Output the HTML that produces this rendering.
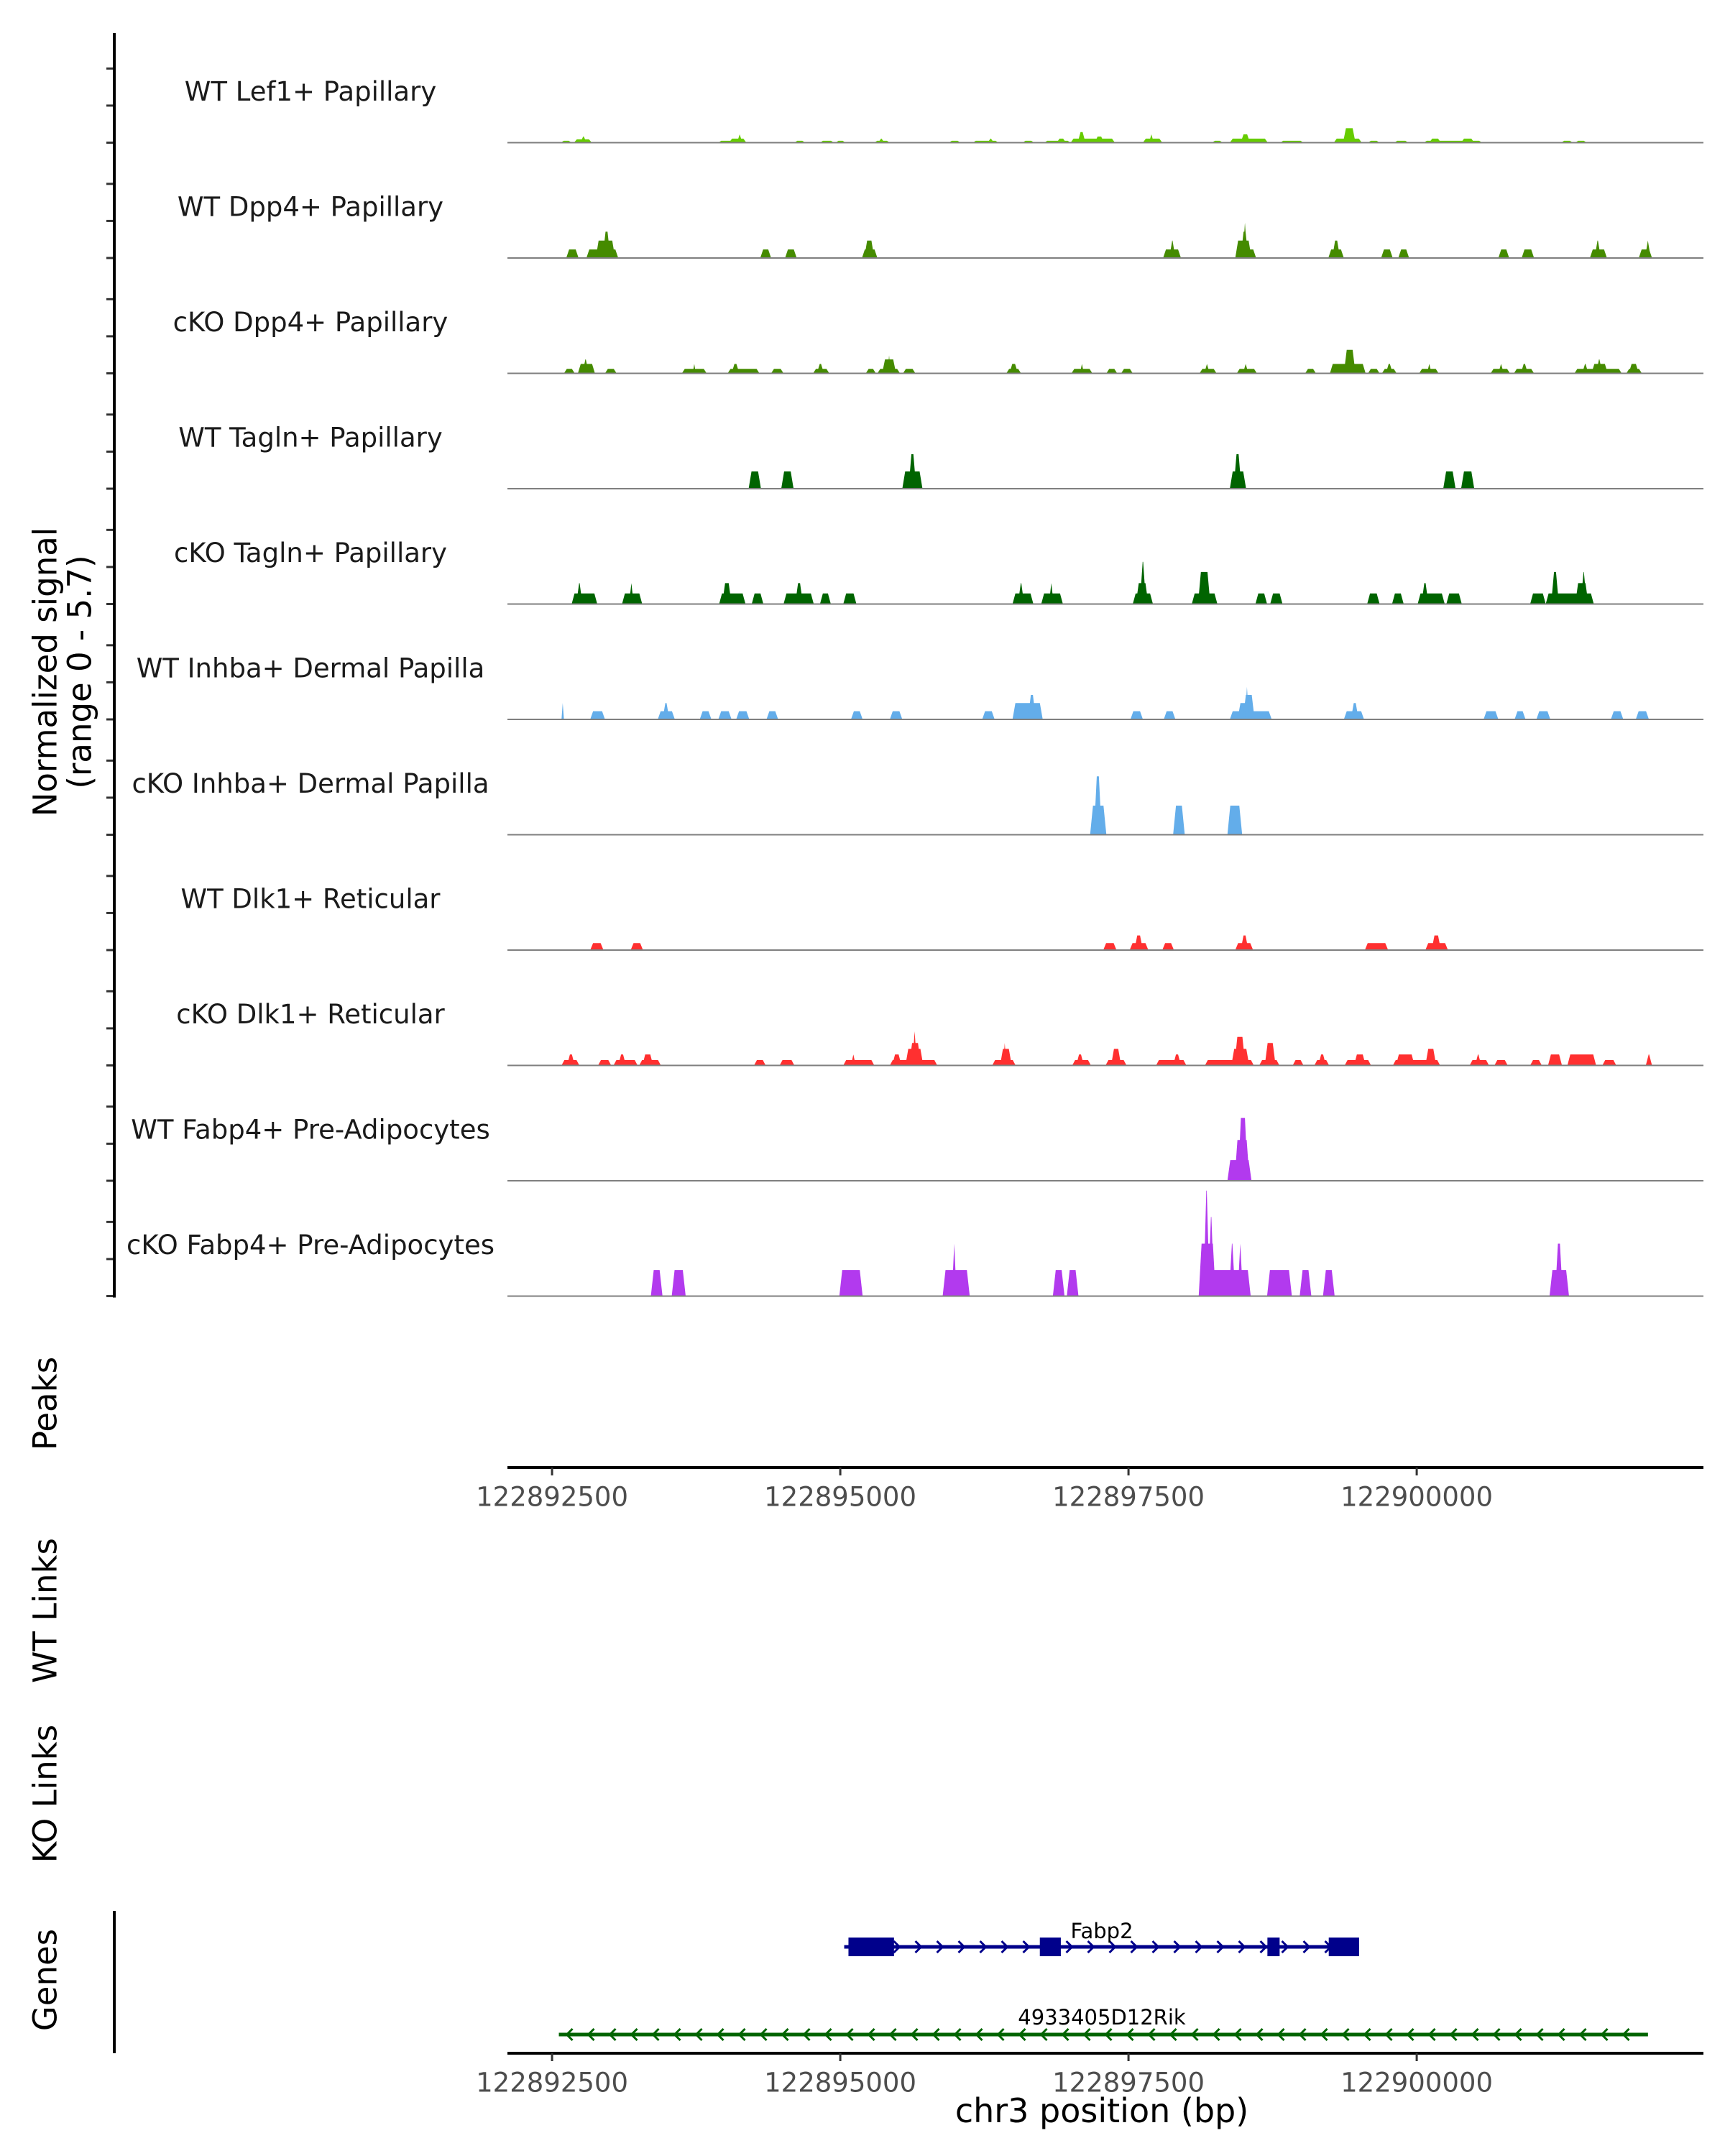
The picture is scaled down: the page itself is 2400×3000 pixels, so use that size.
<!DOCTYPE html>
<html><head><meta charset="utf-8">
<style>
html,body{margin:0;padding:0;background:#fff;}
svg{display:block;font-family:"DejaVu Sans","Liberation Sans",sans-serif;}
</style></head>
<body>
<svg id="chart" width="2400" height="3000" viewBox="0 0 2400 3000" xmlns="http://www.w3.org/2000/svg">
  <g id="tracks"></g>
  <g id="axes"></g>
  <g id="genes"></g>
  <text transform="translate(63,935) rotate(-90)" text-anchor="middle" dominant-baseline="central" font-size="45" fill="#000">Normalized signal</text>
  <text transform="translate(111,935) rotate(-90)" text-anchor="middle" dominant-baseline="central" font-size="45" fill="#000">(range 0 - 5.7)</text>
  <text transform="translate(63,1953) rotate(-90)" text-anchor="middle" dominant-baseline="central" font-size="45" fill="#000">Peaks</text>
  <text transform="translate(63,2241) rotate(-90)" text-anchor="middle" dominant-baseline="central" font-size="45" fill="#000">WT Links</text>
  <text transform="translate(63,2496) rotate(-90)" text-anchor="middle" dominant-baseline="central" font-size="45" fill="#000">KO Links</text>
  <text transform="translate(63,2755) rotate(-90)" text-anchor="middle" dominant-baseline="central" font-size="45" fill="#000">Genes</text>
  <text x="1533" y="2937" text-anchor="middle" dominant-baseline="central" font-size="46" fill="#000">chr3 position (bp)</text>
</svg>
<script>
// ---- data (positions as bp offset from 122892000; values = normalized signal) ----
const trackNames = ['WT Lef1+ Papillary','WT Dpp4+ Papillary','cKO Dpp4+ Papillary','WT Tagln+ Papillary','cKO Tagln+ Papillary','WT Inhba+ Dermal Papilla','cKO Inhba+ Dermal Papilla','WT Dlk1+ Reticular','cKO Dlk1+ Reticular','WT Fabp4+ Pre-Adipocytes','cKO Fabp4+ Pre-Adipocytes'];
const trackColors = ['#66CC00','#458B00','#458B00','#006400','#006400','#63ADEA','#63ADEA','#FF3030','#FF3030','#B23AEE','#B23AEE'];
const peaksLef1WT = [[576,670,0.1],[690,845,0.18],[745,800,0.33],[1942,2191,0.1],[2036,2185,0.22],[2104,2151,0.45],[2602,2696,0.1],[2824,2945,0.1],[2959,3046,0.1],[3295,3430,0.1],[3329,3383,0.22],[3942,4043,0.1],[4150,4372,0.1],[4278,4332,0.22],[4581,4682,0.1],[4770,4998,0.1],[4877,4958,0.22],[4998,5382,0.22],[5059,5127,0.57],[5207,5288,0.33],[5625,5793,0.22],[5678,5719,0.45],[6224,6318,0.1],[6379,6708,0.22],[6473,6554,0.45],[6816,7018,0.1],[7281,7523,0.22],[7361,7469,0.78],[7577,7678,0.1],[7806,7927,0.1],[8062,8567,0.1],[8109,8210,0.22],[8385,8499,0.22],[9253,9354,0.1],[9375,9475,0.1]];
const peaksDpp4WT = [[623,730,0.46],[798,1074,0.46],[879,1047,0.94],[939,1006,1.42],[2306,2400,0.46],[2521,2622,0.46],[3188,3322,0.46],[3208,3295,0.94],[5800,5955,0.46],[5854,5907,0.94],[6426,6607,0.46],[6426,6567,0.94],[6473,6540,1.42],[6490,6530,1.9],[7233,7368,0.46],[7267,7335,0.94],[7691,7792,0.46],[7840,7934,0.46],[8708,8802,0.46],[8910,9018,0.46],[9502,9650,0.46],[9543,9597,0.94],[9926,10041,0.46],[9980,10030,0.94]];
const peaksDpp4KO = [[603,697,0.24],[724,872,0.51],[764,818,0.75],[959,1060,0.24],[1626,1841,0.24],[1720,1747,0.51],[2023,2299,0.24],[2057,2124,0.51],[2400,2508,0.24],[2764,2905,0.24],[2797,2858,0.51],[3221,3309,0.24],[3322,3518,0.24],[3363,3484,0.75],[3410,3437,0.97],[3544,3652,0.24],[4440,4568,0.24],[4467,4541,0.51],[5005,5187,0.24],[5079,5113,0.51],[5308,5402,0.24],[5436,5537,0.24],[6116,6264,0.24],[6157,6204,0.51],[6439,6614,0.24],[6493,6540,0.51],[7032,7126,0.24],[7247,7557,0.51],[7368,7469,1.27],[7577,7678,0.24],[7698,7826,0.24],[7732,7792,0.51],[8021,8190,0.24],[8089,8129,0.51],[8641,8809,0.24],[8708,8755,0.51],[8843,9018,0.24],[8903,8964,0.51],[9368,9778,0.24],[9435,9489,0.51],[9516,9657,0.51],[9556,9610,0.75],[9818,9953,0.24],[9839,9926,0.51]];
const peaksTaglnWT = [[2205,2312,0.93],[2488,2595,0.93],[3538,3713,0.93],[3592,3659,1.86],[6379,6520,0.93],[6412,6480,1.86],[8230,8337,0.93],[8385,8499,0.93]];
const peaksTaglnKO = [[670,892,0.57],[710,764,1.13],[1107,1282,0.57],[1168,1208,1.13],[1949,2178,0.57],[1976,2057,1.13],[2232,2333,0.57],[2508,2770,0.57],[2609,2676,1.13],[2824,2918,0.57],[3026,3140,0.57],[4494,4675,0.57],[4541,4595,1.13],[4743,4931,0.57],[4810,4851,1.13],[5537,5712,0.57],[5564,5672,1.13],[5598,5652,2.28],[6049,6271,0.57],[6103,6210,1.73],[6601,6702,0.57],[6729,6836,0.57],[7570,7678,0.57],[7786,7887,0.57],[8008,8243,0.57],[8041,8102,1.13],[8257,8391,0.57],[8984,9119,0.57],[9119,9536,0.57],[9166,9233,1.73],[9375,9489,1.13],[9422,9475,1.73]];
const peaksInhbaWT = [[582,603,0.88],[831,959,0.44],[1417,1565,0.44],[1458,1518,0.88],[1781,1882,0.44],[1942,2057,0.44],[2097,2211,0.44],[2360,2461,0.44],[3093,3194,0.44],[3430,3538,0.44],[4231,4339,0.44],[4494,4756,0.88],[4628,4696,1.32],[5517,5625,0.44],[5806,5907,0.44],[6379,6742,0.44],[6446,6567,0.88],[6493,6594,1.32],[6510,6545,1.76],[7368,7543,0.44],[7429,7496,0.88],[8580,8708,0.44],[8849,8944,0.44],[9038,9159,0.44],[9684,9792,0.44],[9900,10014,0.44]];
const peaksInhbaKO = [[5167,5308,1.57],[5200,5268,3.15],[5887,5988,1.57],[6358,6486,1.57]];
const peaksDlk1WT = [[831,946,0.38],[1182,1289,0.38],[5281,5396,0.38],[5510,5672,0.38],[5551,5625,0.79],[5793,5894,0.38],[6426,6581,0.38],[6473,6540,0.79],[7550,7752,0.38],[8075,8271,0.38],[8129,8210,0.79]];
const peaksDlk1KO = [[582,737,0.29],[630,697,0.59],[899,1013,0.29],[1033,1242,0.29],[1074,1141,0.59],[1256,1444,0.29],[1283,1377,0.59],[2252,2353,0.29],[2474,2602,0.29],[3026,3295,0.29],[3093,3134,0.59],[3430,3841,0.29],[3450,3531,0.59],[3565,3720,0.89],[3598,3699,1.21],[3625,3665,1.84],[4318,4521,0.29],[4386,4487,0.89],[4413,4440,1.21],[5012,5174,0.29],[5046,5113,0.59],[5301,5483,0.29],[5349,5436,0.89],[5739,6002,0.29],[5887,5955,0.59],[6163,6587,0.29],[6392,6547,0.89],[6419,6513,1.54],[6634,6809,0.29],[6682,6776,1.21],[6924,7018,0.29],[7112,7240,0.29],[7146,7213,0.59],[7375,7604,0.29],[7456,7557,0.59],[7793,8203,0.29],[7820,7981,0.59],[8075,8169,0.89],[8459,8627,0.29],[8506,8560,0.59],[8674,8789,0.29],[8984,9085,0.29],[9139,9260,0.59],[9307,9556,0.59],[9610,9731,0.29],[9987,10041,0.59]];
const peaksFabp4WT = [[6358,6567,1.12],[6420,6550,2.2],[6450,6535,3.39]];
const peaksFabp4KO = [[1357,1458,1.41],[1538,1659,1.41],[2992,3194,1.41],[3888,4123,1.41],[3968,4009,2.83],[4844,4945,1.41],[4965,5066,1.41],[6109,6560,1.41],[6109,6257,2.83],[6150,6204,5.69],[6190,6244,4.27],[6372,6426,2.83],[6446,6493,2.83],[6702,6917,1.41],[6985,7086,1.41],[7187,7288,1.41],[9152,9321,1.41],[9200,9267,2.83]];
const xTicks = [122892500,122895000,122897500,122900000];
const yTicks = [0,2,4];
const geneFabp2 = [3034,7500];
const fabp2Exons = [[3071,3466],[4731,4913],[6705,6811],[7237,7500]];
const geneRik = [559,10006];

const allPeaks = [peaksLef1WT,peaksDpp4WT,peaksDpp4KO,peaksTaglnWT,peaksTaglnKO,peaksInhbaWT,peaksInhbaKO,peaksDlk1WT,peaksDlk1KO,peaksFabp4WT,peaksFabp4KO];

// ---- scales ----
const NS='http://www.w3.org/2000/svg';
const base = 122892000;
const domLo = 122892113, domHi = 122902487, rangeLo = 706, rangeHi = 2370;
function xPos(bp){ return rangeLo + (bp - domLo)*(rangeHi-rangeLo)/(domHi-domLo); }
function xOff(off){ return xPos(base + off); }
const yMax = 5.7, trackPx = 147, firstBase = 198.5, trackStep = 160.5;
function yVal(t,v){ return firstBase + t*trackStep - v*trackPx/yMax; }
function mk(tag, attrs, parent){ const e=document.createElementNS(NS,tag); for(const k in attrs) e.setAttribute(k,attrs[k]); parent.appendChild(e); return e; }

const gT = document.getElementById('tracks');
const gA = document.getElementById('axes');
const gG = document.getElementById('genes');

allPeaks.forEach((peaks,t)=>{
  const g = mk('g',{},gT);
  
  
  const y0 = yVal(t,0);
  peaks.forEach((p,i)=>{
    const x1 = xOff(p[0]), x2 = xOff(p[1]);
    const s = Math.min(4, (x2-x1)/2);
    const yt = yVal(t,p[2]);
    const poly = mk('polygon',{points:`${x1},${y0} ${x1+s},${yt} ${x2-s},${yt} ${x2},${y0}`, fill:trackColors[t]}, g);
    
    
  });
  const bl = mk('line',{x1:rangeLo,x2:rangeHi,y1:y0,y2:y0,stroke:'#7f7f7f','stroke-width':2},g);
  
  
  const lab = mk('text',{x:432,y:y0-71,'text-anchor':'middle','dominant-baseline':'central','font-size':37,fill:'#1a1a1a'},g);
  lab.textContent = trackNames[t];
  
  
  yTicks.forEach(v=>{
    const yy = yVal(t,v);
    const tk = mk('line',{x1:148,x2:159,y1:yy,y2:yy,stroke:'#333','stroke-width':3},gA);
    
    
  });
});

// left axis lines
const la = mk('line',{x1:159,x2:159,y1:46,y2:yVal(10,0)+2,stroke:'#000','stroke-width':4},gA);


const ga = mk('line',{x1:159,x2:159,y1:2659,y2:2857,stroke:'#000','stroke-width':4},gA);



// x axes
[[2042,2083],[2857,2898]].forEach((a,ai)=>{
  const ax = mk('line',{x1:rangeLo,x2:rangeHi,y1:a[0],y2:a[0],stroke:'#000','stroke-width':4},gA);
  
  
  xTicks.forEach(v=>{
    const x = xPos(v);
    const tk = mk('line',{x1:x,x2:x,y1:a[0],y2:a[0]+11,stroke:'#333','stroke-width':3},gA);
    
    
    const tl = mk('text',{x:x,y:a[1],'text-anchor':'middle','dominant-baseline':'central','font-size':37,fill:'#4d4d4d'},gA);
    tl.textContent = String(v);
    
    
  });
});

// genes
function chevrons(x1,x2,y,dir,color,g){
  for(let x=x1+14; x<x2-6; x+=30){
    const d = dir>0 ? `M${x-5},${y-8} L${x+3},${y} L${x-5},${y+8}` : `M${x+5},${y-8} L${x-3},${y} L${x+5},${y+8}`;
    const c = mk('path',{d:d,stroke:color,'stroke-width':3,fill:'none'},g);
    
    
  }
}
const fy = 2709, fc = '#00008B';
const fg = mk('g',{},gG);


mk('line',{x1:xOff(geneFabp2[0]),x2:xOff(geneFabp2[1]),y1:fy,y2:fy,stroke:fc,'stroke-width':5},fg);
chevrons(xOff(geneFabp2[0]),xOff(geneFabp2[1]),fy,1,fc,fg);
fabp2Exons.forEach(e=>{
  const r = mk('rect',{x:xOff(e[0]),y:fy-13,width:xOff(e[1])-xOff(e[0]),height:26,fill:fc},fg);
  
  
});
const fl = mk('text',{x:1533,y:2687,'text-anchor':'middle','dominant-baseline':'central','font-size':29,fill:'#000'},fg);
fl.textContent = 'Fabp2';



const ry = 2831, rc = '#006400';
const rg = mk('g',{},gG);


mk('line',{x1:xOff(geneRik[0]),x2:xOff(geneRik[1]),y1:ry,y2:ry,stroke:rc,'stroke-width':5},rg);
chevrons(xOff(geneRik[0]),xOff(geneRik[1]),ry,-1,rc,rg);
const rl = mk('text',{x:1533,y:2807,'text-anchor':'middle','dominant-baseline':'central','font-size':29,fill:'#000'},rg);
rl.textContent = '4933405D12Rik';


</script>
</body></html>
